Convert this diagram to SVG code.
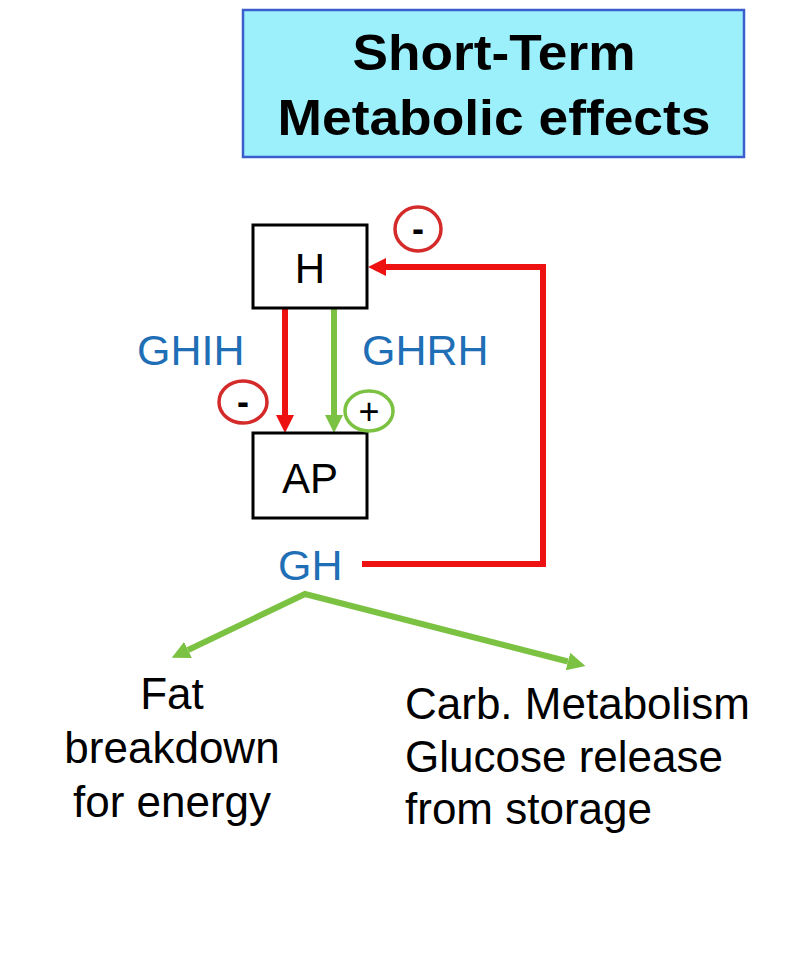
<svg xmlns="http://www.w3.org/2000/svg" width="809" height="954" viewBox="0 0 809 954">
<style>
.title{font-family:"Liberation Sans",Arial,sans-serif;font-weight:bold;font-size:50px;fill:#000;text-anchor:middle}
.box{fill:#fff;stroke:#000;stroke-width:3}
.lbl{font-family:"Liberation Sans",Arial,sans-serif;font-size:42px;fill:#000;text-anchor:middle}
.blue{font-family:"Liberation Sans",Arial,sans-serif;font-size:43px;fill:#1f6fb6}
.body{font-family:"Liberation Sans",Arial,sans-serif;font-size:44px;fill:#000}
.red{fill:none;stroke:#ee1111;stroke-width:6}
.green{fill:none;stroke:#7cc242;stroke-width:6}
.cred{fill:#fff;stroke:#d42a2a;stroke-width:3.5}
.cgreen{fill:#fff;stroke:#7cc242;stroke-width:3.5}
.sign{font-family:"Liberation Sans",Arial,sans-serif;font-weight:bold;font-size:36px;fill:#000;text-anchor:middle}
</style>
<defs>
<marker id="ar" viewBox="0 0 18 18" refX="0" refY="9" markerWidth="18" markerHeight="18" markerUnits="userSpaceOnUse" orient="auto-start-reverse"><path d="M0,0 L18,9 L0,18 z" fill="#ee1111"/></marker>
<marker id="ag" viewBox="0 0 18 18" refX="0" refY="9" markerWidth="18" markerHeight="18" markerUnits="userSpaceOnUse" orient="auto-start-reverse"><path d="M0,0 L18,9 L0,18 z" fill="#7cc242"/></marker>
</defs>
<rect width="809" height="954" fill="#fff"/>
<g id="title">
<rect x="243" y="10" width="501" height="147" fill="#9cf0fc" stroke="#3a5fcd" stroke-width="2.5"/>
<text class="title" x="494" y="70" textLength="283" lengthAdjust="spacingAndGlyphs">Short-Term</text>
<text class="title" x="494" y="135" textLength="433" lengthAdjust="spacingAndGlyphs">Metabolic effects</text>
</g>
<g id="connectors">
<path class="red" d="M285,308 L285,415" marker-end="url(#ar)"/>
<path class="green" d="M334,308 L334,415" marker-end="url(#ag)"/>
<path class="red" d="M362,564 L543,564 L543,267 L386,267" marker-end="url(#ar)"/>
<path class="green" d="M188,650 L305,594 L568,661.5" marker-start="url(#ag)" marker-end="url(#ag)" stroke-linejoin="miter"/>
</g>
<g id="H">
<rect class="box" x="253" y="225" width="114" height="83"/>
<text class="lbl" x="310" y="283">H</text>
</g>
<g id="AP">
<rect class="box" x="253" y="433" width="114" height="85"/>
<text class="lbl" x="310" y="493">AP</text>
</g>
<g id="label-GHIH"><text class="blue" x="137" y="365">GHIH</text></g>
<g id="label-GHRH"><text class="blue" x="362" y="365">GHRH</text></g>
<g id="GH"><text class="blue" x="278" y="580">GH</text></g>
<g id="minus-top">
<ellipse class="cred" cx="418" cy="229" rx="23" ry="22"/>
<text class="sign" x="418" y="241">-</text>
</g>
<g id="minus-left">
<ellipse class="cred" cx="243" cy="402" rx="24" ry="21"/>
<text class="sign" x="243" y="414">-</text>
</g>
<g id="plus">
<ellipse class="cgreen" cx="369" cy="411" rx="24" ry="20"/>
<text class="sign" x="369" y="424" style="font-weight:normal">+</text>
</g>
<g id="fat">
<text class="body" text-anchor="middle" x="172" y="709">Fat</text>
<text class="body" text-anchor="middle" x="172" y="763">breakdown</text>
<text class="body" text-anchor="middle" x="172" y="817">for energy</text>
</g>
<g id="carb">
<text class="body" x="405" y="719">Carb. Metabolism</text>
<text class="body" x="405" y="772">Glucose release</text>
<text class="body" x="405" y="824">from storage</text>
</g>
</svg>
